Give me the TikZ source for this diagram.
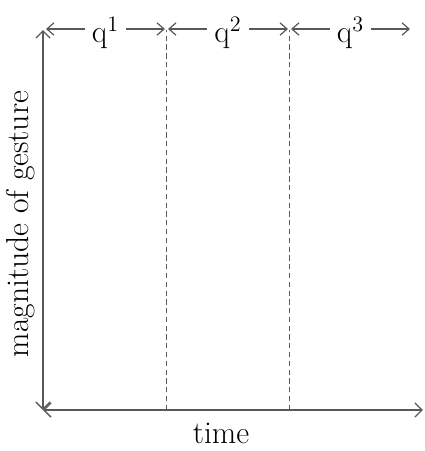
\documentclass[tikz,border=0pt]{standalone}
\usetikzlibrary{positioning,arrows.meta}
\tikzset{
  axisline/.style={line width=0.8pt, black!65, {Straight Barb[length=4pt,width=8pt]}-{Straight Barb[length=4pt,width=8pt]}},
  spanline/.style={line width=0.7pt, black!65, {Straight Barb[length=4pt,width=7pt]}-{Straight Barb[length=4pt,width=7pt]}},
  divider/.style={line width=0.5pt, black!65, dash pattern=on 3pt off 2pt},
  lbl/.style={font=\fontsize{18}{21}\selectfont, text=black, inner sep=1pt},
  qlbl/.style={lbl, fill=white, inner xsep=4pt}
}

\begin{document}
\begin{tikzpicture}
        \useasboundingbox (-0.86, -0.82) rectangle (7.64, 8.2);

        \coordinate (O) at (0, 0);
        \coordinate (xend) at (7.6, 0);
        \coordinate (yend) at (0, 7.6);

        % axes
        \draw[axisline] (O) -- (xend);
        \draw[axisline] (O) -- (yend);
        \node[lbl] (time) at (3.56, -0.46) {time};
        \node[lbl, rotate=90] (mag) at (-0.44, 3.72) {magnitude of gesture};

        % phase boundaries
        \coordinate (b1) at (2.46, 0);
        \coordinate (b2) at (4.92, 0);
        \coordinate (b1top) at (2.46, 7.6);
        \coordinate (b2top) at (4.92, 7.6);
        \draw[divider] (b1) -- (b1top);
        \draw[divider] (b2) -- (b2top);

        % phases
        \coordinate (s0) at (0.06, 7.62);
        \coordinate (s1) at (2.44, 7.62);
        \coordinate (s2) at (2.5, 7.62);
        \coordinate (s3) at (4.9, 7.62);
        \coordinate (s4) at (4.96, 7.62);
        \coordinate (s5) at (7.34, 7.62);
        \draw[spanline] (s0) -- (s1) node[qlbl, midway, yshift=-2pt] (q1) {q\textsuperscript{1}};
        \draw[spanline] (s2) -- (s3) node[qlbl, midway, yshift=-2pt] (q2) {q\textsuperscript{2}};
        \draw[spanline] (s4) -- (s5) node[qlbl, midway, yshift=-2pt] (q3) {q\textsuperscript{3}};
    \end{tikzpicture}
\end{document}
